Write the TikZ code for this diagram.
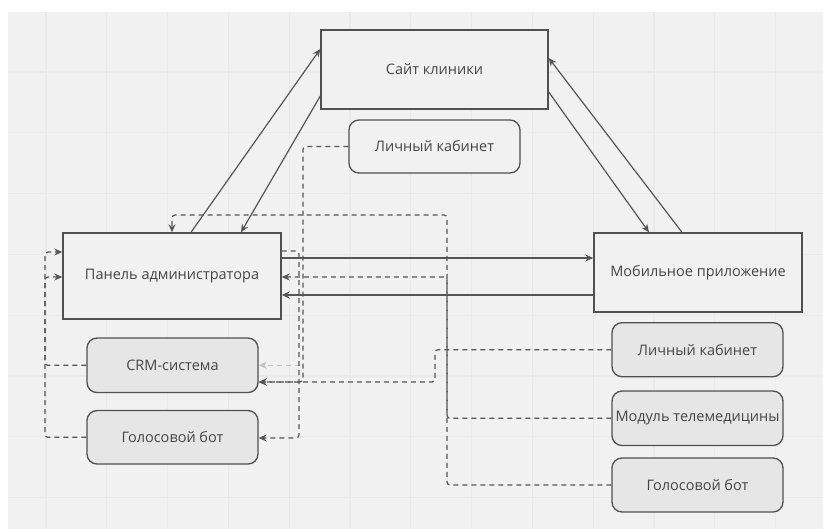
\documentclass[tikz,border=0pt]{standalone}
\usepackage{fontspec}
\setmainfont{Open Sans}
\usetikzlibrary{arrows.meta,calc}
\definecolor{bgc}{HTML}{F1F1F1}
\definecolor{gridc}{HTML}{EAEAEA}
\definecolor{linec}{HTML}{555555}
\definecolor{boxc}{HTML}{505050}
\definecolor{txtc}{HTML}{454545}
\definecolor{subfill}{HTML}{E6E6E6}
\tikzset{
  mainbox/.style={draw=boxc, line width=1.4pt, fill=bgc, inner sep=0pt, text=txtc, font=\fontsize{14.5}{17}\selectfont},
  subbox/.style={draw=boxc, line width=1.3pt, rounded corners=10pt, fill=subfill, inner sep=0pt, text=txtc, font=\fontsize{14.5}{17}\selectfont},
  conn/.style={draw=linec, line width=1.2pt, -{Stealth[length=8pt,width=7pt]}},
  dconn/.style={draw=linec, line width=1.2pt, dash pattern=on 5pt off 4pt, rounded corners=3pt},
  darr/.style={dconn, -{Stealth[length=8pt,width=7pt]}},
}
\begin{document}
\begin{tikzpicture}[x=1pt,y=-1pt]
\useasboundingbox (0,0) rectangle (823,529);
\fill[white] (0,0) rectangle (823,529);
\fill[bgc] (8,12) rectangle (823,529);
\foreach \i in {0,...,12} \draw[gridc, line width=1.3pt] ({46+60.8*\i},12) -- ({46+60.8*\i},529);
\foreach \j in {0,...,7} \draw[gridc, line width=1.3pt] (8,{72+60.8*\j}) -- (823,{72+60.8*\j});

% nodes
\node[mainbox, minimum width=227pt, minimum height=79pt] (site) at (434.5,69.5) {Сайт клиники};
\node[subbox, fill=bgc, minimum width=171pt, minimum height=53pt] (lk1) at (434.5,146.5) {Личный кабинет};
\node[mainbox, minimum width=218pt, minimum height=86pt] (admin) at (172,276) {Панель администратора};
\node[mainbox, minimum width=208pt, minimum height=79pt] (mob) at (698,272.5) {Мобильное приложение};
\node[subbox, minimum width=171pt, minimum height=54.5pt] (crm) at (172.5,365.3) {CRM-система};
\node[subbox, minimum width=171pt, minimum height=53.5pt] (vb1) at (172.5,437.3) {Голосовой бот};
\node[subbox, minimum width=171pt, minimum height=54pt] (lk2) at (697.5,349.7) {Личный кабинет};
\node[subbox, minimum width=171pt, minimum height=54.5pt] (tm) at (697.5,418.3) {Модуль телемедицины};
\node[subbox, minimum width=171pt, minimum height=54pt] (vb2) at (697.5,485) {Голосовой бот};

% solid connectors
\draw[conn] (admin.north -| 191,0) -- (site.west |- 0,49);
\draw[conn] (site.west |- 0,96) -- (admin.north -| 241,0);
\draw[conn] (site.east |- 0,92) -- (mob.north -| 649,0);
\draw[conn] (mob.north -| 682,0) -- (site.east |- 0,58);
\draw[conn] (admin.east |- 0,258) -- (mob.west |- 0,258);
\draw[conn] (mob.west |- 0,295) -- (admin.east |- 0,295);

% dashed connectors
\draw[darr, draw=linec!35] (300,365.3) -- (crm.east);
\draw[darr] (lk1.west) -- (303,146.5) -- (303,382) -- (crm.east |- 0,382);
\draw[darr] (lk2.west) -- (435,349.7) -- (435,382) -- (crm.east |- 0,382);
\draw[darr] (admin.east |- 0,251) -- (299,251) -- (299,438) -- (vb1.east |- 0,438);
\draw[darr] (tm.west) -- (447,418.3) -- (447,277) -- (admin.east |- 0,277);
\draw[darr] (vb2.west) -- (447,485) -- (447,215) -- (172,215) -- (admin.north);
\draw[darr] (crm.west) -- (45,365.3) -- (45,252) -- (admin.west |- 0,252);
\draw[darr] (vb1.west) -- (45,437.3) -- (45,277) -- (admin.west |- 0,277);
\end{tikzpicture}
\end{document}
